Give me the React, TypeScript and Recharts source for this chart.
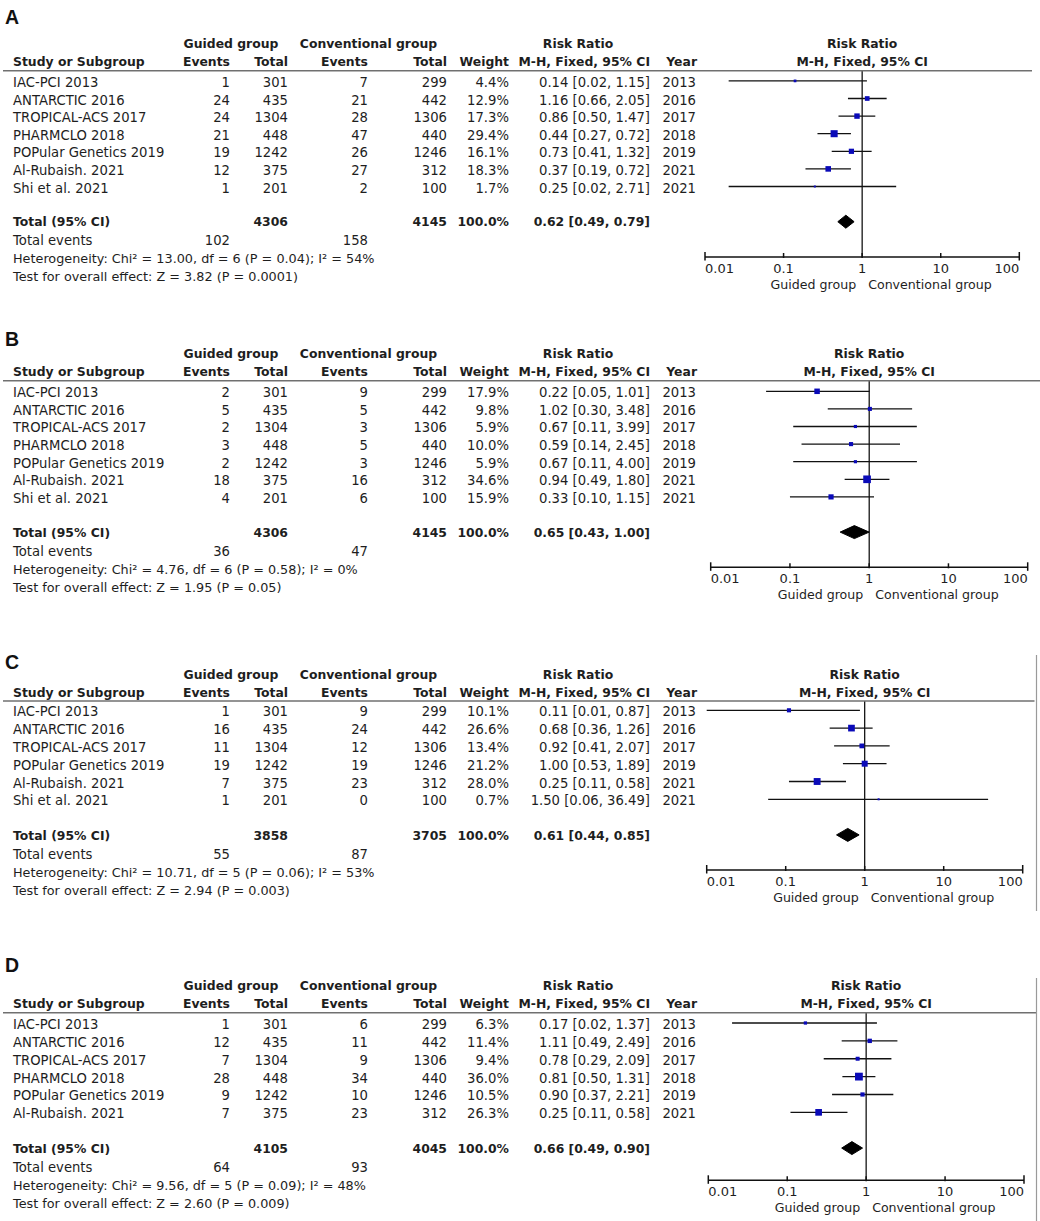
import React from 'react';
import { ComposedChart, XAxis, YAxis, Scatter, ErrorBar, Area, ReferenceLine } from 'recharts';

// ---------- Panel A ----------
const studiesA = ['IAC-PCI 2013', 'ANTARCTIC 2016', 'TROPICAL-ACS 2017', 'PHARMCLO 2018', 'POPular Genetics 2019', 'Al-Rubaish. 2021', 'Shi et al. 2021'];
const guidedEventsA = [1, 24, 24, 21, 19, 12, 1];
const guidedTotalA = [301, 435, 1304, 448, 1242, 375, 201];
const convEventsA = [7, 21, 28, 47, 26, 27, 2];
const convTotalA = [299, 442, 1306, 440, 1246, 312, 100];
const weightA = [4.4, 12.9, 17.3, 29.4, 16.1, 18.3, 1.7];
const rrA = [0.14, 1.16, 0.86, 0.44, 0.73, 0.37, 0.25];
const loA = [0.02, 0.66, 0.5, 0.27, 0.41, 0.19, 0.02];
const hiA = [1.15, 2.05, 1.47, 0.72, 1.32, 0.72, 2.71];
const yearA = [2013, 2016, 2017, 2018, 2019, 2021, 2021];
const totalsA = [4306, 4145];
const totalEventsA = [102, 158];
const overallA = [0.62, 0.49, 0.79];
const hetA = 'Heterogeneity: Chi² = 13.00, df = 6 (P = 0.04); I² = 54%';
const testA = 'Test for overall effect: Z = 3.82 (P = 0.0001)';

// ---------- Panel B ----------
const studiesB = ['IAC-PCI 2013', 'ANTARCTIC 2016', 'TROPICAL-ACS 2017', 'PHARMCLO 2018', 'POPular Genetics 2019', 'Al-Rubaish. 2021', 'Shi et al. 2021'];
const guidedEventsB = [2, 5, 2, 3, 2, 18, 4];
const guidedTotalB = [301, 435, 1304, 448, 1242, 375, 201];
const convEventsB = [9, 5, 3, 5, 3, 16, 6];
const convTotalB = [299, 442, 1306, 440, 1246, 312, 100];
const weightB = [17.9, 9.8, 5.9, 10.0, 5.9, 34.6, 15.9];
const rrB = [0.22, 1.02, 0.67, 0.59, 0.67, 0.94, 0.33];
const loB = [0.05, 0.3, 0.11, 0.14, 0.11, 0.49, 0.1];
const hiB = [1.01, 3.48, 3.99, 2.45, 4.0, 1.8, 1.15];
const yearB = [2013, 2016, 2017, 2018, 2019, 2021, 2021];
const totalsB = [4306, 4145];
const totalEventsB = [36, 47];
const overallB = [0.65, 0.43, 1.0];
const hetB = 'Heterogeneity: Chi² = 4.76, df = 6 (P = 0.58); I² = 0%';
const testB = 'Test for overall effect: Z = 1.95 (P = 0.05)';

// ---------- Panel C ----------
const studiesC = ['IAC-PCI 2013', 'ANTARCTIC 2016', 'TROPICAL-ACS 2017', 'POPular Genetics 2019', 'Al-Rubaish. 2021', 'Shi et al. 2021'];
const guidedEventsC = [1, 16, 11, 19, 7, 1];
const guidedTotalC = [301, 435, 1304, 1242, 375, 201];
const convEventsC = [9, 24, 12, 19, 23, 0];
const convTotalC = [299, 442, 1306, 1246, 312, 100];
const weightC = [10.1, 26.6, 13.4, 21.2, 28.0, 0.7];
const rrC = [0.11, 0.68, 0.92, 1.0, 0.25, 1.5];
const loC = [0.01, 0.36, 0.41, 0.53, 0.11, 0.06];
const hiC = [0.87, 1.26, 2.07, 1.89, 0.58, 36.49];
const yearC = [2013, 2016, 2017, 2019, 2021, 2021];
const totalsC = [3858, 3705];
const totalEventsC = [55, 87];
const overallC = [0.61, 0.44, 0.85];
const hetC = 'Heterogeneity: Chi² = 10.71, df = 5 (P = 0.06); I² = 53%';
const testC = 'Test for overall effect: Z = 2.94 (P = 0.003)';

// ---------- Panel D ----------
const studiesD = ['IAC-PCI 2013', 'ANTARCTIC 2016', 'TROPICAL-ACS 2017', 'PHARMCLO 2018', 'POPular Genetics 2019', 'Al-Rubaish. 2021'];
const guidedEventsD = [1, 12, 7, 28, 9, 7];
const guidedTotalD = [301, 435, 1304, 448, 1242, 375];
const convEventsD = [6, 11, 9, 34, 10, 23];
const convTotalD = [299, 442, 1306, 440, 1246, 312];
const weightD = [6.3, 11.4, 9.4, 36.0, 10.5, 26.3];
const rrD = [0.17, 1.11, 0.78, 0.81, 0.9, 0.25];
const loD = [0.02, 0.49, 0.29, 0.5, 0.37, 0.11];
const hiD = [1.37, 2.49, 2.09, 1.31, 2.21, 0.58];
const yearD = [2013, 2016, 2017, 2018, 2019, 2021];
const totalsD = [4105, 4045];
const totalEventsD = [64, 93];
const overallD = [0.66, 0.49, 0.9];
const hetD = 'Heterogeneity: Chi² = 9.56, df = 5 (P = 0.09); I² = 48%';
const testD = 'Test for overall effect: Z = 2.60 (P = 0.009)';

const axisTicks = [0.01, 0.1, 1, 10, 100];

// ---------- styling / layout ----------
const FONT = '"DejaVu Sans", sans-serif';
const TXT = '#1e1e1e';
const BLUE = '#0a0ab8';
const FS = 13.2;
const FSB = 12.4;
const COL = { name: 13, gEv: 230, gTot: 288, cEv: 368, cTot: 447, w: 509, ci: 650, yr: 696 };

const layoutA = { letter: 'A', hl: 70.7, axisY: 256.7, x001: 705, x100: 1019.3, letterY: 24, first: 80.6, sp: 17.6, lineEnd: 1032 };
const layoutB = { letter: 'B', hl: 380.7, axisY: 567, x001: 710.7, x100: 1027.7, letterY: 346, first: 391, sp: 17.6, lineEnd: 1040 };
const layoutC = { letter: 'C', hl: 701, axisY: 870, x001: 706.7, x100: 1022.7, letterY: 669.3, first: 710.3, sp: 17.8, lineEnd: 1034.5 };
const layoutD = { letter: 'D', hl: 1012.7, axisY: 1180, x001: 708.3, x100: 1024, letterY: 971.7, first: 1022.7, sp: 17.87, lineEnd: 1036 };

const fmtCI = (r: number, l: number, h: number) => `${r.toFixed(2)} [${l.toFixed(2)}, ${h.toFixed(2)}]`;

function T(props: any) {
  const { bold, size, children, ...rest } = props;
  return (
    <text fontFamily={FONT} fontSize={size || (bold ? FSB : FS)} fontWeight={bold ? 'bold' : 'normal'} fill={TXT} {...rest}>
      {children}
    </text>
  );
}

function Square(props: any) {
  const { cx, cy, payload } = props;
  if (cx == null || cy == null) return null;
  const s = Math.max(2, 1.3 * Math.sqrt(payload.weight));
  return <rect x={cx - s / 2} y={cy - s / 2} width={s} height={s} fill={BLUE} />;
}

function XTick(props: any) {
  const { x, y, payload } = props;
  const v = payload.value;
  const isEnd = v === 0.01 || v === 100;
  const anchor = v === 0.01 ? 'start' : v === 100 ? 'end' : 'middle';
  const label = v === 0.01 ? '0.01' : v === 0.1 ? '0.1' : String(v);
  return (
    <g>
      <line x1={x} x2={x} y1={y - (isEnd ? 5 : 4)} y2={y + (isEnd ? 3.5 : 1)} stroke="#111" strokeWidth={1.5} />
      <T x={x} y={y + 15.5} textAnchor={anchor} size={13}>{label}</T>
      {v === 1 && (
        <>
          <T x={x - 6} y={y + 31.5} textAnchor="end" size={12.6}>Guided group</T>
          <T x={x + 6} y={y + 31.5} textAnchor="start" size={12.6}>Conventional group</T>
        </>
      )}
    </g>
  );
}

function Forest(p: any) {
  const { layout, studies, ge, gt, ce, ct, w, rr, lo, hi, yr, totals, totalEvents, overall, het, test } = p;
  const n = studies.length;
  const xH = 40;
  const plotH = layout.axisY - layout.hl;
  const H = plotH + xH;
  const d0 = -(layout.first - layout.hl) / layout.sp;
  const d1 = d0 + plotH / layout.sp;
  const totalRow = n + 1;
  const eventsRow = n + 2;
  const dh = 6.5 / layout.sp;

  const pts = studies.map((s: string, i: number) => ({
    x: rr[i],
    y: i,
    weight: w[i],
    err: [rr[i] - lo[i], hi[i] - rr[i]],
  }));
  const diamond = [
    { x: overall[1], band: [totalRow, totalRow] },
    { x: overall[0], band: [totalRow - dh, totalRow + dh] },
    { x: overall[2], band: [totalRow, totalRow] },
  ];
  const yTicks = [...studies.map((_: string, i: number) => i), totalRow, eventsRow];

  const RowTick = (tp: any) => {
    const { y, payload } = tp;
    const v = payload.value;
    if (v < n) {
      const b = y + 6;
      return (
        <g>
          <T x={COL.name} y={b}>{studies[v]}</T>
          <T x={COL.gEv} y={b} textAnchor="end">{ge[v]}</T>
          <T x={COL.gTot} y={b} textAnchor="end">{gt[v]}</T>
          <T x={COL.cEv} y={b} textAnchor="end">{ce[v]}</T>
          <T x={COL.cTot} y={b} textAnchor="end">{ct[v]}</T>
          <T x={COL.w} y={b} textAnchor="end">{`${w[v].toFixed(1)}%`}</T>
          <T x={COL.ci} y={b} textAnchor="end">{fmtCI(rr[v], lo[v], hi[v])}</T>
          <T x={COL.yr} y={b} textAnchor="end">{yr[v]}</T>
        </g>
      );
    }
    if (v === totalRow) {
      const b = y + 4.6;
      return (
        <g>
          <T bold x={COL.name} y={b}>Total (95% CI)</T>
          <T bold x={COL.gTot} y={b} textAnchor="end">{totals[0]}</T>
          <T bold x={COL.cTot} y={b} textAnchor="end">{totals[1]}</T>
          <T bold x={COL.w} y={b} textAnchor="end">100.0%</T>
          <T bold x={COL.ci} y={b} textAnchor="end">{fmtCI(overall[0], overall[1], overall[2])}</T>
        </g>
      );
    }
    const b = y + 6;
    return (
      <g>
        <T x={COL.name} y={b}>Total events</T>
        <T x={COL.gEv} y={b} textAnchor="end">{totalEvents[0]}</T>
        <T x={COL.cEv} y={b} textAnchor="end">{totalEvents[1]}</T>
        <T x={COL.name} y={b + 18} size={12.8}>{het}</T>
        <T x={COL.name} y={b + 36} size={12.8}>{test}</T>
      </g>
    );
  };

  return (
    <div style={{ position: 'absolute', left: 0, top: layout.hl, width: 1040, height: H }}>
      <ComposedChart width={1040} height={H} margin={{ top: 0, left: 0, right: 1040 - layout.x100, bottom: 0 }}>
        <XAxis
          type="number"
          dataKey="x"
          scale="log"
          domain={[0.01, 100]}
          ticks={axisTicks}
          allowDataOverflow
          interval={0}
          height={xH}
          tickSize={0}
          tickMargin={0}
          tickLine={false}
          axisLine={{ stroke: '#111', strokeWidth: 1.5 }}
          tick={<XTick />}
        />
        <YAxis
          type="number"
          dataKey="y"
          domain={[d0, d1]}
          reversed
          allowDataOverflow
          width={layout.x001}
          ticks={yTicks}
          interval={0}
          axisLine={false}
          tickLine={false}
          tick={RowTick}
        />
        <ReferenceLine x={1} stroke="#000" strokeWidth={1.2} />
        <Area
          data={diamond}
          dataKey="band"
          type="linear"
          fill="#000"
          fillOpacity={1}
          stroke="#000"
          strokeWidth={1}
          dot={false}
          activeDot={false}
          isAnimationActive={false}
        />
        <Scatter data={pts} shape={Square} isAnimationActive={false}>
          <ErrorBar dataKey="err" direction="x" width={0} stroke="#111" strokeWidth={1.3} />
        </Scatter>
      </ComposedChart>
    </div>
  );
}

function Header({ layout }: any) {
  const l1 = layout.hl - 27 + 4.6;
  const l2 = layout.hl - 9 + 4.6;
  const cx = (layout.x001 + layout.x100) / 2;
  return (
    <g>
      <text x={5} y={layout.letterY} fontFamily='"Liberation Sans", Arial, sans-serif' fontWeight="bold" fontSize={19.5} fill="#111">
        {layout.letter}
      </text>
      <T bold x={231} y={l1} textAnchor="middle">Guided group</T>
      <T bold x={368.5} y={l1} textAnchor="middle">Conventional group</T>
      <T bold x={578} y={l1} textAnchor="middle">Risk Ratio</T>
      <T bold x={cx} y={l1} textAnchor="middle">Risk Ratio</T>
      <T bold x={COL.name} y={l2}>Study or Subgroup</T>
      <T bold x={COL.gEv} y={l2} textAnchor="end">Events</T>
      <T bold x={COL.gTot} y={l2} textAnchor="end">Total</T>
      <T bold x={COL.cEv} y={l2} textAnchor="end">Events</T>
      <T bold x={COL.cTot} y={l2} textAnchor="end">Total</T>
      <T bold x={COL.w} y={l2} textAnchor="end">Weight</T>
      <T bold x={COL.ci} y={l2} textAnchor="end">M-H, Fixed, 95% CI</T>
      <T bold x={697} y={l2} textAnchor="end">Year</T>
      <T bold x={cx} y={l2} textAnchor="middle">M-H, Fixed, 95% CI</T>
      <line x1={3} x2={layout.lineEnd} y1={layout.hl} y2={layout.hl} stroke="#707070" strokeWidth={1.6} />
    </g>
  );
}

export default function App() {
  return (
    <div style={{ position: 'absolute', left: 0, top: 0, width: 1040, height: 1221, background: '#fff', overflow: 'hidden' }}>
      <Forest layout={layoutA} studies={studiesA} ge={guidedEventsA} gt={guidedTotalA} ce={convEventsA} ct={convTotalA} w={weightA} rr={rrA} lo={loA} hi={hiA} yr={yearA} totals={totalsA} totalEvents={totalEventsA} overall={overallA} het={hetA} test={testA} />
      <Forest layout={layoutB} studies={studiesB} ge={guidedEventsB} gt={guidedTotalB} ce={convEventsB} ct={convTotalB} w={weightB} rr={rrB} lo={loB} hi={hiB} yr={yearB} totals={totalsB} totalEvents={totalEventsB} overall={overallB} het={hetB} test={testB} />
      <Forest layout={layoutC} studies={studiesC} ge={guidedEventsC} gt={guidedTotalC} ce={convEventsC} ct={convTotalC} w={weightC} rr={rrC} lo={loC} hi={hiC} yr={yearC} totals={totalsC} totalEvents={totalEventsC} overall={overallC} het={hetC} test={testC} />
      <Forest layout={layoutD} studies={studiesD} ge={guidedEventsD} gt={guidedTotalD} ce={convEventsD} ct={convTotalD} w={weightD} rr={rrD} lo={loD} hi={hiD} yr={yearD} totals={totalsD} totalEvents={totalEventsD} overall={overallD} het={hetD} test={testD} />
      <svg width={1040} height={1221} style={{ position: 'absolute', left: 0, top: 0, pointerEvents: 'none' }}>
        <Header layout={layoutA} />
        <Header layout={layoutB} />
        <Header layout={layoutC} />
        <Header layout={layoutD} />
        <line x1={1036.5} x2={1036.5} y1={655} y2={911} stroke="#9a9a9a" strokeWidth={1.2} />
        <line x1={1036.5} x2={1036.5} y1={978} y2={1221} stroke="#9a9a9a" strokeWidth={1.2} />
      </svg>
    </div>
  );
}
